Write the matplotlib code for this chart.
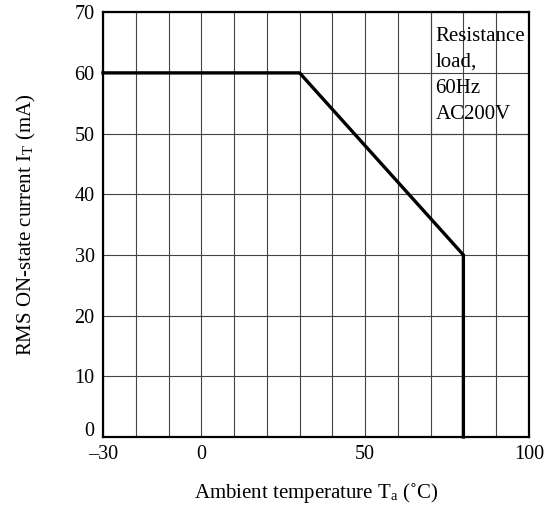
import matplotlib.pyplot as plt
from matplotlib.patches import Rectangle
from matplotlib.transforms import ScaledTranslation

plt.rcParams['font.family'] = ['Liberation Serif', 'DejaVu Serif']
plt.rcParams['mathtext.fontset'] = 'stix'

# derating curve
temp = [-30, 30, 80, 80]
current = [60, 60, 30, 0]

x_grid = list(range(-30, 101, 10))
y_grid = list(range(0, 71, 10))
x_labels = {-30: '\u201330', 0: '0', 50: '50', 100: '100'}

fig = plt.figure(figsize=(5.55, 5.08), dpi=100)
ax = fig.add_axes([0.1856, 0.1398, 0.953 - 0.1856, 0.976 - 0.1398])

ax.set_xlim(-30, 100)
ax.set_ylim(0, 70)
ax.set_xticks(x_grid)
ax.set_xticklabels([x_labels.get(v, '') for v in x_grid])
ax.set_yticks(y_grid)
ax.tick_params(length=0, labelsize=14.5, pad=6)
ax.grid(True, color='#444444', linewidth=0.8)

# lift the "0" label a bit, like the original
lbl0 = ax.get_yticklabels()[0]
lbl0.set_transform(lbl0.get_transform() + ScaledTranslation(0, 6 / 72, fig.dpi_scale_trans))

for s in ax.spines.values():
    s.set_linewidth(1.6)

# box for the note (hides grid inside)
ax.add_patch(Rectangle((70, 50), 30, 20, facecolor='white',
                       edgecolor='#444444', linewidth=0.8, zorder=1.5))
ax.text(71.5, 67.6, 'Resistance\nload,\n60Hz\nAC200V', fontsize=15,
        va='top', ha='left', linespacing=1.5, zorder=3)

ax.plot(temp, current, color='black', linewidth=2.4, zorder=4,
        solid_joinstyle='miter', clip_on=False)

ax.set_xlabel('Ambient temperature T$_\\mathregular{a}$ (\u02daC)',
              fontsize=15, labelpad=12)
ax.set_ylabel('RMS ON-state current I$_\\mathregular{T}$ (mA)',
              fontsize=15, labelpad=26)

fig.savefig('out.png', dpi=100)
